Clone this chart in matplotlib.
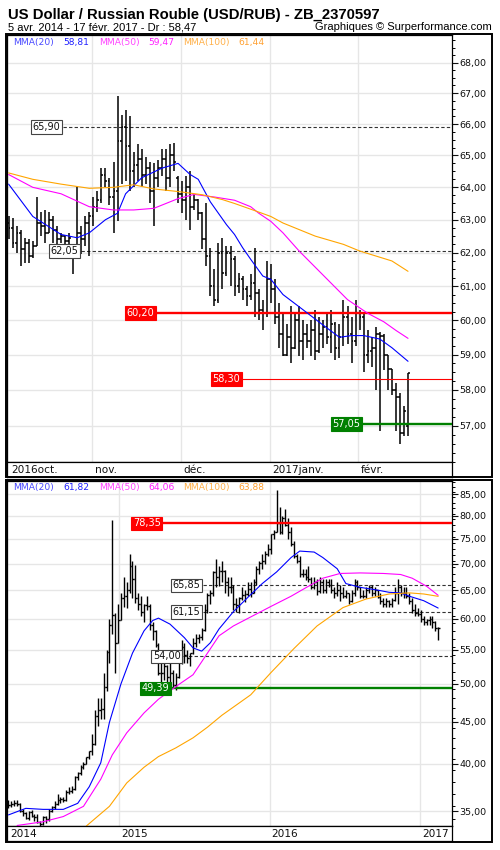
import numpy as np
import pandas as pd
import matplotlib
matplotlib.use("Agg")
import matplotlib.pyplot as plt
import matplotlib.transforms as mtrans
from matplotlib.patches import Rectangle
from matplotlib.ticker import FixedLocator, FuncFormatter, NullFormatter

# ---------------------------------------------------------------------------
# Données : barres journalières (panneau du haut), du 3 oct. 2016 au 17 févr. 2017
# ---------------------------------------------------------------------------
jours = pd.bdate_range("2016-10-03", "2017-02-17")

ouv_j = [62.9, 62.75, 62.3, 62.6, 62.1, 62.3, 61.9, 62.2, 62.9, 62.8,
         62.6, 63.0, 62.7, 62.4, 62.5, 62.35, 62.0, 62.1, 62.6, 62.4,
         62.9, 63.1, 63.4, 63.6, 64.4, 64.2, 63.7, 63.9, 65.45, 65.9,
         65.3, 64.5, 64.7, 64.9, 64.4, 64.6, 63.9, 64.3, 64.6, 64.9,
         64.3, 65.0, 64.3, 63.8, 63.6, 64.0, 63.4, 63.6, 63.2, 62.4,
         61.9, 61.0, 60.6, 62.0, 61.4, 62.0, 61.8, 61.0, 61.2, 60.9,
         60.7, 61.1, 60.8, 60.3, 60.2, 61.2, 60.9, 60.1, 59.6, 59.0,
         59.5, 59.2, 60.0, 59.4, 59.6, 59.4, 59.7, 59.1, 59.6, 59.8,
         59.5, 59.9, 59.2, 59.5, 60.1, 59.6, 59.4, 60.2, 60.1, 59.0,
         59.1, 59.2, 59.6, 59.55, 59.0, 58.6, 58.0, 57.8, 56.8, 57.0]
haut_j = [63.1, 63.05, 62.8, 62.7, 62.45, 62.4, 62.35, 63.7, 63.25, 63.3,
          63.25, 63.1, 62.8, 62.6, 62.5, 62.6, 62.2, 64.0, 62.8, 63.1,
          63.25, 63.7, 63.9, 64.6, 64.6, 64.3, 64.8, 66.9, 66.3, 66.45,
          66.25, 65.1, 65.35, 65.2, 64.95, 64.8, 64.75, 64.85, 65.2, 65.2,
          65.35, 65.4, 64.35, 64.2, 64.35, 64.5, 63.8, 63.65, 63.25, 63.5,
          62.15, 61.5, 62.3, 62.45, 62.2, 62.2, 61.9, 61.4, 61.3, 61.0,
          61.35, 62.15, 60.9, 60.6, 61.75, 61.65, 61.2, 60.5, 60.2, 59.9,
          60.4, 60.2, 60.4, 60.0, 59.9, 60.0, 60.3, 60.1, 60.0, 60.2,
          60.3, 59.95, 59.9, 60.6, 60.4, 60.1, 60.6, 60.3, 60.2, 59.7,
          59.5, 59.8, 59.65, 59.6, 59.0, 58.6, 58.2, 57.9, 57.55, 58.47]
bas_j = [62.4, 62.15, 62.0, 61.6, 61.7, 61.7, 61.85, 62.2, 62.5, 62.3,
         62.6, 62.3, 62.15, 62.3, 62.2, 62.0, 61.35, 62.05, 61.95, 62.2,
         61.9, 62.8, 63.25, 63.5, 64.0, 63.45, 62.6, 62.95, 64.1, 64.2,
         63.9, 64.0, 64.2, 64.0, 64.1, 63.5, 62.8, 64.0, 64.35, 63.9,
         64.0, 64.5, 63.5, 63.2, 63.0, 62.7, 63.3, 63.0, 62.1, 61.6,
         60.7, 60.4, 60.5, 60.9, 61.3, 61.0, 60.7, 60.8, 60.6, 60.4,
         60.6, 60.1, 60.0, 59.7, 60.1, 60.5, 59.9, 59.2, 58.95, 58.95,
         58.75, 59.15, 58.95, 58.85, 59.2, 58.95, 58.85, 59.05, 59.2, 59.3,
         59.05, 58.85, 58.9, 59.25, 59.3, 58.75, 59.25, 59.7, 58.5, 58.75,
         58.65, 58.0, 56.85, 58.55, 58.0, 57.85, 56.85, 56.5, 56.7, 56.7]
clot_j = [62.75, 62.3, 62.6, 62.1, 62.3, 61.9, 62.2, 62.9, 62.8, 62.6,
          63.0, 62.7, 62.4, 62.5, 62.35, 62.45, 62.05, 62.6, 62.4, 62.9,
          63.1, 63.4, 63.6, 64.4, 64.2, 63.7, 63.9, 65.45, 65.9, 65.3,
          64.5, 64.7, 64.9, 64.4, 64.6, 63.9, 64.3, 64.6, 64.9, 64.3,
          65.0, 64.8, 63.8, 63.6, 64.0, 63.4, 63.6, 63.2, 62.4, 61.9,
          61.0, 60.6, 62.0, 61.4, 62.0, 61.8, 61.0, 61.2, 60.9, 60.7,
          61.1, 60.8, 60.3, 60.2, 61.2, 60.9, 60.1, 59.6, 59.0, 59.5,
          59.2, 60.0, 59.4, 59.6, 59.4, 59.7, 59.1, 59.6, 59.8, 59.5,
          59.9, 59.2, 59.5, 60.1, 59.6, 59.4, 60.2, 60.1, 59.0, 59.1,
          59.2, 59.6, 59.55, 59.0, 58.6, 58.0, 57.8, 56.8, 57.4, 58.47]

# moyennes mobiles (indice de séance, valeur)
mma20_j_x = [0, 6, 13, 17, 20, 24, 27, 29, 33, 38, 42, 45, 47, 50, 54, 56, 58, 60,
             63, 65, 68, 73, 78, 82, 85, 88, 92, 95, 99]
mma20_j = [64.1, 63.1, 62.55, 62.45, 62.6, 63.0, 63.2, 63.8, 64.3, 64.6, 64.75, 64.4,
           64.25, 63.55, 62.85, 62.55, 62.15, 61.8, 61.3, 61.2, 60.75, 60.3, 59.85,
           59.5, 59.55, 59.55, 59.45, 59.2, 58.81]
mma50_j_x = [0, 6, 13, 20, 26, 31, 36, 42, 46, 51, 56, 60, 62, 65, 68, 72, 79, 84,
             89, 93, 96, 99]
mma50_j = [64.4, 64.0, 63.8, 63.4, 63.3, 63.3, 63.35, 63.65, 63.78, 63.7, 63.6, 63.4,
           63.2, 62.95, 62.6, 62.05, 61.2, 60.6, 60.2, 59.95, 59.7, 59.47]
mma100_j_x = [0, 6, 13, 20, 26, 31, 36, 42, 48, 53, 56, 61, 65, 68, 76, 83, 87, 95, 99]
mma100_j = [64.45, 64.25, 64.1, 63.97, 64.0, 64.08, 63.95, 63.87, 63.77, 63.62, 63.5,
            63.28, 63.1, 62.9, 62.5, 62.25, 62.05, 61.75, 61.44]

niveaux_j = [65.90, 62.05, 60.20, 58.30, 57.05]
styles_j = ["cadre", "cadre", "rouge", "rouge_fin", "vert"]

# ---------------------------------------------------------------------------
# Données : barres hebdomadaires (panneau du bas), d'avril 2014 à février 2017
# ---------------------------------------------------------------------------
semaines = pd.date_range("2014-04-07", periods=150, freq="7D")

ouv_s = [35.6, 35.6, 35.7, 35.8, 35.7, 35.0, 34.8, 34.4, 34.9, 34.6,
         34.5, 34.0, 33.8, 34.5, 34.3, 35.0, 35.4, 35.7, 36.1, 36.2,
         36.1, 37.0, 37.1, 37.3, 38.5, 39.0, 39.6, 40.0, 40.7, 41.4,
         42.3, 45.7, 46.5, 46.6, 49.5, 54.6, 59.0, 60.7, 56.0, 59.8,
         63.5, 64.0, 65.0, 69.5, 67.0, 63.5, 62.5, 61.2, 62.3, 62.2,
         59.0, 58.0, 55.7, 51.5, 51.5, 52.5, 51.0, 51.5, 49.9, 51.0,
         53.2, 55.5, 54.2, 53.8, 54.5, 56.1, 56.8, 57.0, 58.2, 61.5,
         64.2, 64.5, 68.3, 67.5, 68.5, 68.5, 66.5, 65.6, 65.5, 62.5,
         62.3, 63.5, 64.2, 64.3, 65.2, 64.5, 66.5, 69.0, 70.2, 70.5,
         72.0, 72.9, 76.0, 76.5, 78.5, 76.5, 79.5, 78.0, 76.5, 74.0,
         71.5, 70.5, 68.0, 68.0, 67.5, 67.0, 65.5, 66.5, 64.8, 66.5,
         65.0, 66.5, 66.0, 65.0, 64.5, 65.0, 64.5, 64.0, 64.5, 63.0,
         64.5, 66.5, 65.5, 64.0, 64.0, 65.0, 65.5, 64.5, 65.0, 63.8,
         63.0, 62.5, 63.0, 62.5, 63.2, 64.5, 65.5, 64.5, 64.5, 64.0,
         63.0, 61.5, 61.0, 60.8, 60.0, 59.5, 59.8, 60.0, 59.5, 58.5]
haut_s = [36.1, 36.0, 36.1, 36.1, 35.8, 35.2, 34.9, 35.0, 35.1, 34.7,
          34.7, 34.1, 34.6, 34.6, 35.2, 35.5, 36.0, 36.7, 36.4, 36.4,
          37.2, 37.5, 37.6, 38.6, 39.1, 39.8, 40.2, 40.8, 41.5, 43.5,
          46.5, 48.0, 48.1, 51.6, 55.0, 60.0, 79.0, 61.0, 62.5, 64.5,
          67.5, 66.5, 72.0, 70.5, 69.7, 64.5, 64.0, 62.5, 64.0, 62.5,
          59.5, 58.2, 56.0, 53.3, 54.0, 52.7, 53.0, 52.0, 51.5, 53.8,
          56.5, 56.0, 55.0, 54.5, 56.8, 57.5, 57.5, 58.5, 62.5, 64.5,
          65.0, 68.5, 71.0, 69.5, 70.5, 68.8, 67.5, 67.5, 66.0, 63.5,
          63.8, 65.5, 65.0, 66.5, 66.4, 67.0, 69.5, 70.5, 72.0, 72.5,
          74.0, 76.0, 77.0, 85.9, 82.0, 80.0, 81.5, 79.5, 77.5, 74.5,
          72.0, 71.5, 68.9, 69.0, 69.5, 67.5, 67.5, 67.0, 67.5, 67.0,
          67.0, 67.0, 67.0, 65.5, 66.5, 66.0, 65.5, 65.0, 64.5, 65.0,
          67.0, 66.8, 65.5, 65.0, 65.5, 66.0, 66.0, 65.5, 65.0, 64.5,
          63.5, 63.5, 63.2, 63.5, 65.5, 67.0, 66.0, 65.5, 65.5, 64.5,
          63.5, 62.5, 61.8, 61.5, 60.5, 60.0, 60.5, 60.5, 59.6, 58.6]
bas_s = [35.3, 35.4, 35.5, 35.5, 34.9, 34.6, 34.3, 34.2, 34.5, 34.1,
         33.9, 33.6, 33.7, 33.9, 34.1, 34.9, 35.2, 35.6, 35.8, 35.9,
         36.0, 36.7, 36.9, 37.2, 38.2, 38.8, 39.4, 40.0, 40.5, 41.0,
         42.2, 44.5, 45.3, 45.3, 49.0, 53.0, 57.5, 51.5, 56.0, 59.8,
         62.0, 61.8, 64.5, 63.5, 62.7, 61.5, 60.5, 59.5, 61.5, 58.2,
         56.5, 55.5, 51.2, 49.8, 50.5, 49.5, 50.3, 49.4, 49.2, 50.9,
         52.8, 53.0, 53.0, 52.5, 54.3, 55.5, 56.0, 56.5, 58.0, 61.0,
         62.5, 64.0, 65.5, 65.7, 66.5, 64.5, 64.0, 64.5, 61.5, 61.2,
         61.0, 63.2, 62.8, 64.0, 63.8, 64.5, 66.0, 68.0, 69.0, 70.0,
         71.5, 72.0, 75.0, 76.5, 76.0, 76.0, 77.8, 75.0, 73.5, 71.2,
         70.2, 67.5, 67.5, 66.8, 66.5, 65.2, 65.2, 64.2, 64.5, 64.5,
         64.5, 65.5, 64.5, 63.5, 64.0, 63.0, 63.5, 63.5, 62.5, 62.8,
         64.0, 65.0, 63.5, 63.5, 63.5, 64.5, 64.0, 64.0, 63.5, 62.5,
         62.0, 62.0, 62.0, 62.0, 63.0, 62.5, 64.0, 63.5, 63.5, 62.5,
         61.0, 60.5, 60.5, 59.5, 59.0, 59.0, 59.0, 58.5, 58.0, 56.5]
clot_s = [35.6, 35.7, 35.8, 35.7, 35.0, 34.8, 34.4, 34.9, 34.6, 34.5,
          34.0, 33.8, 34.5, 34.3, 35.0, 35.4, 35.7, 36.1, 36.2, 36.1,
          37.0, 37.1, 37.3, 38.5, 39.0, 39.6, 40.0, 40.7, 41.4, 42.3,
          45.7, 46.5, 46.6, 49.5, 54.6, 59.0, 60.7, 56.0, 59.8, 63.5,
          64.0, 65.0, 69.5, 67.0, 63.5, 62.5, 61.2, 62.3, 62.2, 59.0,
          58.0, 55.7, 51.5, 51.5, 52.5, 51.0, 51.5, 49.9, 51.0, 53.2,
          55.5, 54.2, 53.8, 54.5, 56.1, 56.8, 57.0, 58.2, 61.5, 64.2,
          64.5, 68.3, 67.5, 68.5, 68.5, 66.5, 65.6, 65.5, 62.5, 62.3,
          63.5, 64.2, 64.3, 65.2, 64.5, 66.5, 69.0, 70.2, 70.5, 72.0,
          72.9, 76.0, 76.5, 78.5, 76.5, 79.5, 78.0, 76.5, 74.0, 71.5,
          70.5, 68.0, 68.0, 67.5, 67.0, 65.5, 66.5, 64.8, 66.5, 65.0,
          66.5, 66.0, 65.0, 64.5, 65.0, 64.5, 64.0, 64.5, 63.0, 64.5,
          66.5, 65.5, 64.0, 64.0, 65.0, 65.5, 64.5, 65.0, 63.8, 63.0,
          62.5, 63.0, 62.5, 63.2, 64.5, 65.5, 64.5, 64.5, 64.0, 63.0,
          61.5, 61.0, 60.8, 60.0, 59.5, 59.8, 60.0, 59.5, 58.5, 58.47]

mma20_s_x = [0, 6, 12, 19, 24, 28, 32, 35, 39, 43, 47, 50, 52, 56, 61, 64, 67, 70,
             73, 78, 84, 88, 93, 98, 101, 106, 109, 114, 117, 122, 128, 132, 136,
             139, 144, 149]
mma20_s = [34.66, 35.3, 35.2, 35.2, 35.8, 37.5, 40.1, 44.9, 50.0, 54.5, 58.0, 59.7,
           60.1, 59.1, 56.9, 55.3, 54.8, 56.1, 58.3, 61.2, 64.2, 66.2, 68.4, 71.2,
           72.5, 72.3, 71.2, 69.0, 66.2, 65.5, 65.0, 64.6, 64.5, 63.9, 63.1, 61.82]
mma50_s_x = [3, 12, 19, 26, 32, 36, 41, 47, 52, 59, 64, 69, 73, 78, 84, 91, 98, 103,
             109, 115, 122, 130, 136, 140, 145, 149]
mma50_s = [33.65, 34.0, 34.5, 35.5, 38.3, 41.0, 43.6, 46.1, 47.9, 49.9, 51.3, 54.5,
           57.2, 58.8, 60.3, 62.1, 63.9, 65.4, 67.2, 68.1, 68.2, 68.1, 67.9, 67.2,
           65.7, 64.06]
mma100_s_x = [27, 35, 41, 47, 52, 58, 64, 69, 74, 80, 84, 91, 99, 107, 116, 124, 132,
              139, 144, 149]
mma100_s = [33.6, 35.5, 37.9, 39.6, 40.8, 41.8, 43.0, 44.3, 45.8, 47.4, 48.5, 51.6,
            55.2, 58.8, 61.9, 63.4, 64.3, 64.5, 64.3, 63.88]

niveaux_s = [78.35, 65.85, 61.15, 54.00, 49.39]
styles_s = ["rouge", "cadre", "cadre", "cadre", "vert"]

# ---------------------------------------------------------------------------
# Mise en page (pixels de l'image 500 x 850)
# ---------------------------------------------------------------------------
W, H = 500, 850
fig = plt.figure(figsize=(W / 100, H / 100), dpi=100)
fig.patch.set_facecolor("white")

POLICE = "DejaVu Sans"
BLEU, MAGENTA, ORANGE = "#0000ff", "#ff00ff", "#ffa500"


def boite(x0, y0, x1, y1):
    return fig.add_axes([x0 / W, 1 - y1 / H, (x1 - x0) / W, (y1 - y0) / H])


def fr(v, pos=None):
    return f"{v:.2f}".replace(".", ",")


def barres(ax, x, o, h, l, c, dx, lw):
    ax.vlines(x, l, h, color="black", lw=lw, zorder=3)
    ax.hlines(o, x - dx, x, color="black", lw=lw, zorder=3)
    ax.hlines(c, x, x + dx, color="black", lw=lw, zorder=3)


def moyenne(ax, x, y, couleur):
    ax.plot(x, y, color=couleur, lw=0.8, zorder=5, solid_joinstyle="round",
            solid_capstyle="round")


def axe_prix(ax, majeurs, pas_mineur, bas, haut):
    ax.set_yscale("log")
    ax.set_ylim(bas, haut)
    ax.yaxis.tick_right()
    ax.yaxis.set_major_locator(FixedLocator(majeurs))
    mineurs = np.arange(np.floor(bas), haut, pas_mineur)
    ax.yaxis.set_minor_locator(FixedLocator(mineurs))
    ax.yaxis.set_major_formatter(FuncFormatter(fr))
    ax.yaxis.set_minor_formatter(NullFormatter())
    ax.tick_params(axis="y", which="major", direction="out", length=4, width=0.8,
                   labelsize=6.8, pad=1.5, colors="#111111")
    ax.tick_params(axis="y", which="minor", direction="out", length=2.5, width=0.7)
    ax.tick_params(axis="x", length=0, labelbottom=False)
    ax.grid(True, which="major", color="#e6e6e6", lw=1.0)
    ax.set_axisbelow(True)
    for s in ax.spines.values():
        s.set_linewidth(0.9)


def niveau(ax, val, style, frac):
    tr = mtrans.blended_transform_factory(ax.transAxes, ax.transData)
    if style == "cadre":
        ax.axhline(val, xmin=frac, xmax=1, color="#333333", lw=0.8, ls=(0, (3, 2)), zorder=2)
        fc, ec, tc = "white", "#444444", "#111111"
    elif style == "rouge":
        ax.axhline(val, xmin=frac, xmax=1, color="#ff0000", lw=1.7, zorder=4)
        fc, ec, tc = "#ff0000", "#ff0000", "white"
    elif style == "rouge_fin":
        ax.axhline(val, xmin=frac, xmax=1, color="#ff0000", lw=0.8, zorder=4)
        fc, ec, tc = "#ff0000", "#ff0000", "white"
    else:
        ax.axhline(val, xmin=frac, xmax=1, color="#008000", lw=1.7, zorder=4)
        fc, ec, tc = "#008000", "#008000", "white"
    ax.annotate(fr(val), xy=(frac, val), xycoords=tr, xytext=(-1.8, 0),
                textcoords="offset points", ha="right", va="center", fontsize=7,
                family=POLICE, color=tc, zorder=6,
                bbox=dict(boxstyle="square,pad=0.18", fc=fc, ec=ec, lw=0.8))


def legende(y_px, valeurs):
    textes = [("MMA(20)", "#4a4aff"), (fr(valeurs[0]), "#2020ff"),
              ("MMA(50)", "#ff44ff"), (fr(valeurs[1]), "#ff20ff"),
              ("MMA(100)", "#ffb048"), (fr(valeurs[2]), "#ffa030")]
    positions = [13, 63, 99, 148, 183, 238]
    for (t, c), x in zip(textes, positions):
        fig.text(x / W, 1 - y_px / H, t, color=c, fontsize=6.6, family=POLICE,
                 va="center", ha="left")


# --- titre ---
fig.text(8 / W, 1 - 18.5 / H, "US Dollar / Russian Rouble (USD/RUB) - ZB_2370597",
         fontsize=10.7, fontweight="bold", family="Liberation Sans", va="baseline")
fig.text(8 / W, 1 - 30.5 / H, "5 avr. 2014 - 17 févr. 2017 - Dr : 58,47",
         fontsize=8, family="Liberation Sans", va="baseline")
fig.text(492 / W, 1 - 30.5 / H, "Graphiques © Surperformance.com",
         fontsize=8, family="Liberation Sans", va="baseline", ha="right")

# ---------------------------------------------------------------------------
# Panneau du haut : journalier
# ---------------------------------------------------------------------------
xj = np.arange(len(jours))
ax1 = boite(7, 35, 452, 462)
ax1.set_xlim(-0.4, 109.9)
axe_prix(ax1, list(range(57, 69)), 0.25, 56.0, 68.92)

debut_mois = [i for i in range(len(jours)) if i == 0 or jours[i].month != jours[i - 1].month]
ax1.xaxis.set_major_locator(FixedLocator([i - 0.3 for i in debut_mois]))

barres(ax1, xj, np.array(ouv_j), np.array(haut_j), np.array(bas_j), np.array(clot_j), 0.45, 1.1)
moyenne(ax1, mma20_j_x, mma20_j, BLEU)
moyenne(ax1, mma50_j_x, mma50_j, MAGENTA)
moyenne(ax1, mma100_j_x, mma100_j, ORANGE)

fracs_j = [0.126, 0.166, 0.337, 0.530, 0.800]
for v, st, f in zip(niveaux_j, styles_j, fracs_j):
    niveau(ax1, v, st, f)
legende(42, [mma20_j[-1], mma50_j[-1], mma100_j[-1]])

# bande des dates
bj = boite(7, 462, 452, 477)
bj.set_xlim(ax1.get_xlim())
bj.set_ylim(0, 1)
bj.set_xticks([])
bj.set_yticks([])
mois_fr = {10: "oct.", 11: "nov.", 12: "déc.", 1: "janv.", 2: "févr."}
for i in debut_mois:
    d = jours[i]
    lib = mois_fr[d.month]
    if i == 0 or d.month == 1:
        lib = f"{d.year}{lib}"
    bj.text(max(i, 0.3) + 0.3, 0.45, lib, fontsize=7.6, family=POLICE, va="center",
            ha="left", color="#111111")
for s in bj.spines.values():
    s.set_linewidth(0.9)

# ---------------------------------------------------------------------------
# Panneau du bas : hebdomadaire
# ---------------------------------------------------------------------------
xs = np.arange(len(semaines))
ax2 = boite(7, 481, 452, 826)
ax2.set_xlim(-0.52, 153.8)
axe_prix(ax2, list(range(35, 90, 5)), 1.25, 33.6, 88.2)

annees = pd.to_datetime(["2015-01-01", "2016-01-01", "2017-01-01"])
pos_annees = [(a - semaines[0]).days / 7 for a in annees]
ax2.xaxis.set_major_locator(FixedLocator(pos_annees))

barres(ax2, xs, np.array(ouv_s), np.array(haut_s), np.array(bas_s), np.array(clot_s), 0.5, 1.0)
moyenne(ax2, mma20_s_x, mma20_s, BLEU)
moyenne(ax2, mma50_s_x, mma50_s, MAGENTA)
moyenne(ax2, mma100_s_x, mma100_s, ORANGE)

fracs_s = [0.351, 0.440, 0.440, 0.396, 0.371]
for v, st, f in zip(niveaux_s, styles_s, fracs_s):
    niveau(ax2, v, st, f)
legende(487, [mma20_s[-1], mma50_s[-1], mma100_s[-1]])

bs = boite(7, 826, 452, 841)
bs.set_xlim(ax2.get_xlim())
bs.set_ylim(0, 1)
bs.set_xticks([])
bs.set_yticks([])
bs.text(0.5, 0.45, "2014", fontsize=7.6, family=POLICE, va="center", ha="left", color="#111111")
for a, p in zip(annees, pos_annees):
    bs.text(p + 0.7, 0.45, str(a.year), fontsize=7.6, family=POLICE, va="center",
            ha="left", color="#111111")
for s in bs.spines.values():
    s.set_linewidth(0.9)

# cadres extérieurs
for y0, y1 in [(34, 477), (480, 842)]:
    fig.add_artist(Rectangle((6 / W, 1 - y1 / H), (492 - 6) / W, (y1 - y0) / H,
                             transform=fig.transFigure, fill=False, lw=1.4,
                             ec="black", zorder=10))

fig.savefig("out.png", dpi=100)
